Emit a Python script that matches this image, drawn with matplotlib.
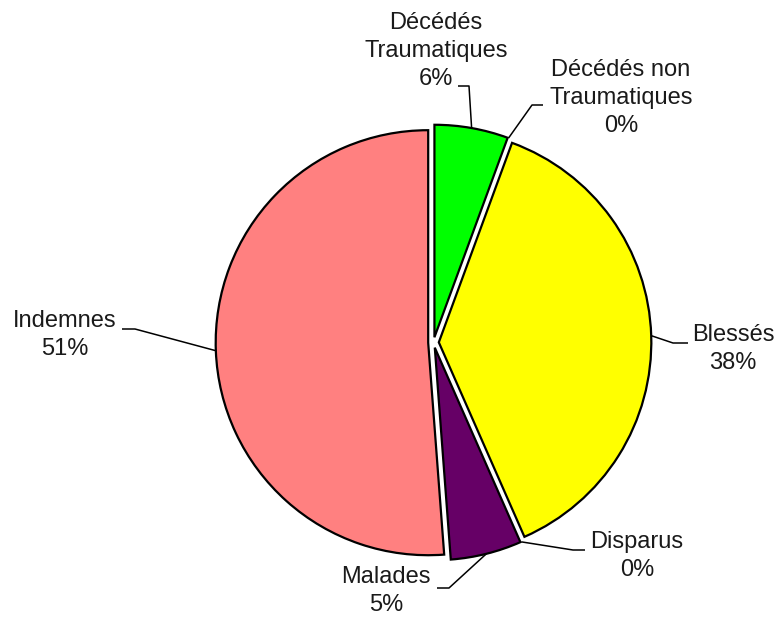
import numpy as np
import matplotlib.pyplot as plt

plt.rcParams['font.family'] = ['Liberation Sans', 'DejaVu Sans']

# data, clockwise from 12 o'clock
labels = ['Décédés\nTraumatiques', 'Décédés non\nTraumatiques', 'Blessés',
          'Disparus', 'Malades', 'Indemnes']
values = [5.6, 0.0, 37.8, 0.0, 5.4, 51.2]
colors = ['#00FF00', '#FF6600', '#FFFF00', '#3366FF', '#660066', '#FF8080']

# label centre (pixels from top-left) and the elbow points next to the text
label_pos = [(436, 51), (621, 98), (733, 349), (637, 556), (386, 591), (65, 335)]
elbows = [((469, 86), (458, 86)), ((532, 105), (543, 105)),
          ((673, 343), (688, 343)), ((573, 550), (585, 550)),
          ((449, 588), (437, 588)), ((135, 329), (122, 329))]

W, H = 780, 618
cx, cy, R = 433.5, 342.5, 212.5


def px(p):
    # pixel (from top-left) -> data coords
    return ((p[0] - cx) / R, (cy - p[1]) / R)


fig = plt.figure(figsize=(W / 100, H / 100), dpi=100)
ax = fig.add_axes([0, 0, 1, 1])
wedges, _ = ax.pie(values, colors=colors, startangle=90, counterclock=False,
                   explode=[0.025] * len(values), radius=1,
                   wedgeprops=dict(edgecolor='black', linewidth=1.6))
ax.set_xlim(-cx / R, (W - cx) / R)
ax.set_ylim(-(H - cy) / R, cy / R)
ax.axis('off')

total = sum(values)
for w, lab, v, tp, (e1, e2) in zip(wedges, labels, values, label_pos, elbows):
    if v == 0:
        w.set_linewidth(0)
    mid = np.deg2rad((w.theta1 + w.theta2) / 2)
    c = w.center
    anchor = (c[0] + np.cos(mid), c[1] + np.sin(mid))
    p1, p2 = px(e1), px(e2)
    ax.plot([anchor[0], p1[0], p2[0]], [anchor[1], p1[1], p2[1]],
            color='black', lw=1.1, solid_capstyle='butt')
    t = px(tp)
    ax.text(t[0], t[1], '%s\n%d%%' % (lab, round(v / total * 100)),
            ha='center', va='center', fontsize=17, linespacing=1.38,
            color='#1a1a1a')

fig.savefig('out.png', dpi=100)
